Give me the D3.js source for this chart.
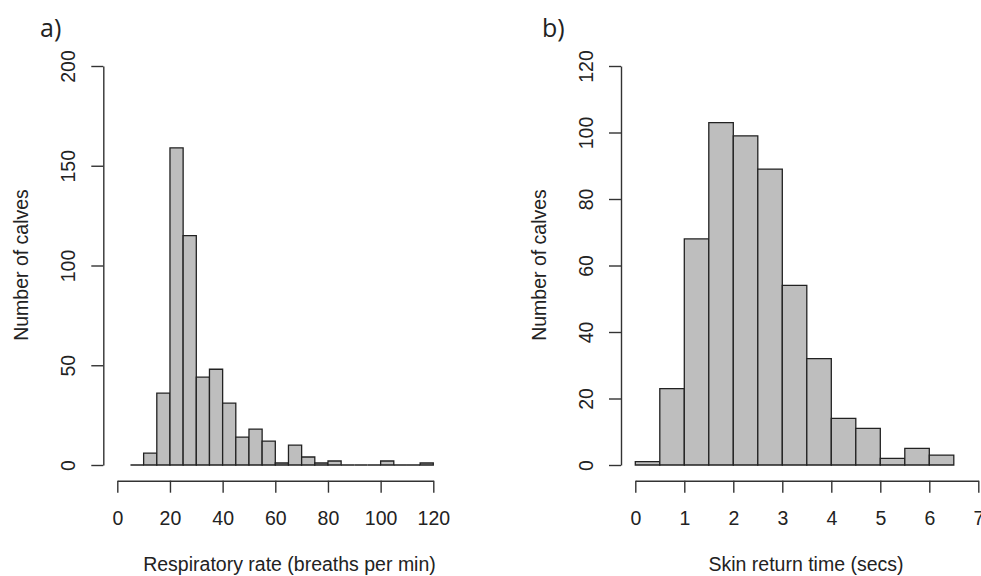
<!DOCTYPE html>
<html>
<head>
<meta charset="utf-8">
<script src="https://cdn.jsdelivr.net/npm/d3@7"></script>
<style>
  html, body { margin: 0; padding: 0; background: #fff; }
  svg { display: block; }
  text { font-family: "Liberation Sans", Arial, sans-serif; fill: #222; }
</style>
</head>
<body>
<svg id="chart" width="981" height="576"></svg>
<script>
// ---------- data ----------
// Panel a) respiratory rate, bins of width 5 (lower bounds)
const respBinStarts = [5,10,15,20,25,30,35,40,45,50,55,60,65,70,75,80,85,90,95,100,105,110,115];
const respBinWidth = 5;
const respCounts   = [0,6,36,159,115,44,48,31,14,18,12,1,10,4,1,2,0,0,0,2,0,0,1];
const respXTicks   = [0,20,40,60,80,100,120];
const respYTicks   = [0,50,100,150,200];

// Panel b) skin return time, bins of width 0.5 (lower bounds)
const skinBinStarts = [0,0.5,1,1.5,2,2.5,3,3.5,4,4.5,5,5.5,6];
const skinBinWidth = 0.5;
const skinCounts    = [1,23,68,103,99,89,54,32,14,11,2,5,3];
const skinXTicks    = [0,1,2,3,4,5,6,7];
const skinYTicks    = [0,20,40,60,80,100,120];

const panels = [
  { tag: "a)", title: "Respiratory rate (breaths per min)", starts: respBinStarts, width: respBinWidth,
    counts: respCounts, xTicks: respXTicks, yTicks: respYTicks,
    xDom: [0,120], xRange: [117.3,433.3], yDom: [0,200], axisX: 103.3, titleX: 289.5, tagX: 40, tagY: 37 },
  { tag: "b)", title: "Skin return time (secs)", starts: skinBinStarts, width: skinBinWidth,
    counts: skinCounts, xTicks: skinXTicks, yTicks: skinYTicks,
    xDom: [0,7], xRange: [635.3,978.3], yDom: [0,120], axisX: 621, titleX: 806, tagX: 542, tagY: 37 }
];

const svg = d3.select("#chart");
const axisY = 480.7;          // vertical position of x axis
const yRange = [465, 66];
const FS = 19.5;

panels.forEach(p => {
  const x = d3.scaleLinear().domain(p.xDom).range(p.xRange);
  const y = d3.scaleLinear().domain(p.yDom).range(yRange);
  const g = svg.append("g");

  // bars (paths so zero-height bins render as a line)
  const bins = p.starts.map((s, i) => ({ x0: s, x1: s + p.width, n: p.counts[i] }));
  g.selectAll("path.bar").data(bins).join("path")
    .attr("class", "bar")
    .attr("d", d => {
      const xa = x(d.x0), xb = x(d.x1), y0 = y(0), y1 = y(d.n);
      return `M${xa},${y0}L${xa},${y1}L${xb},${y1}L${xb},${y0}Z`;
    })
    .attr("fill", "#bebebe")
    .attr("stroke", "#222")
    .attr("stroke-width", 1.3)
    .attr("stroke-linejoin", "miter");

  // x axis
  const xa = g.append("g")
    .attr("transform", `translate(0,${axisY})`)
    .call(d3.axisBottom(x).tickValues(p.xTicks).tickSize(12).tickSizeOuter(0).tickFormat(d3.format("d")));
  xa.select(".domain").attr("stroke", "#333").attr("stroke-width", 1.4);
  xa.selectAll(".tick line").attr("stroke", "#333").attr("stroke-width", 1.4);
  xa.selectAll(".tick text")
    .attr("y", 44.8).attr("dy", 0)
    .style("font-size", FS + "px")
    .style("font-family", "'Liberation Sans', Arial, sans-serif")
    .attr("fill", "#222");

  // y axis
  const ya = g.append("g")
    .attr("transform", `translate(${p.axisX},0)`)
    .call(d3.axisLeft(y).tickValues(p.yTicks).tickSize(12).tickSizeOuter(0).tickFormat(d3.format("d")));
  ya.select(".domain").attr("stroke", "#333").attr("stroke-width", 1.4);
  ya.selectAll(".tick line").attr("stroke", "#333").attr("stroke-width", 1.4);
  ya.selectAll(".tick text")
    .attr("x", 0).attr("y", 0).attr("dy", 0)
    .attr("text-anchor", "middle")
    .attr("transform", "translate(-28,0) rotate(-90)")
    .style("font-size", FS + "px")
    .style("font-family", "'Liberation Sans', Arial, sans-serif")
    .attr("fill", "#222");

  // axis titles
  g.append("text")
    .attr("x", p.titleX).attr("y", 570.5)
    .attr("text-anchor", "middle")
    .style("font-size", FS + "px")
    .text(p.title);
  g.append("text")
    .attr("transform", `translate(${p.axisX - 75.5},265) rotate(-90)`)
    .attr("text-anchor", "middle")
    .style("font-size", FS + "px")
    .text("Number of calves");

  // panel tag
  g.append("text")
    .attr("x", p.tagX).attr("y", p.tagY)
    .style("font-family", "'Open Sans', 'Noto Sans', sans-serif")
    .style("font-size", "25px")
    .attr("fill", "#111")
    .text(p.tag);
});
</script>
</body>
</html>
